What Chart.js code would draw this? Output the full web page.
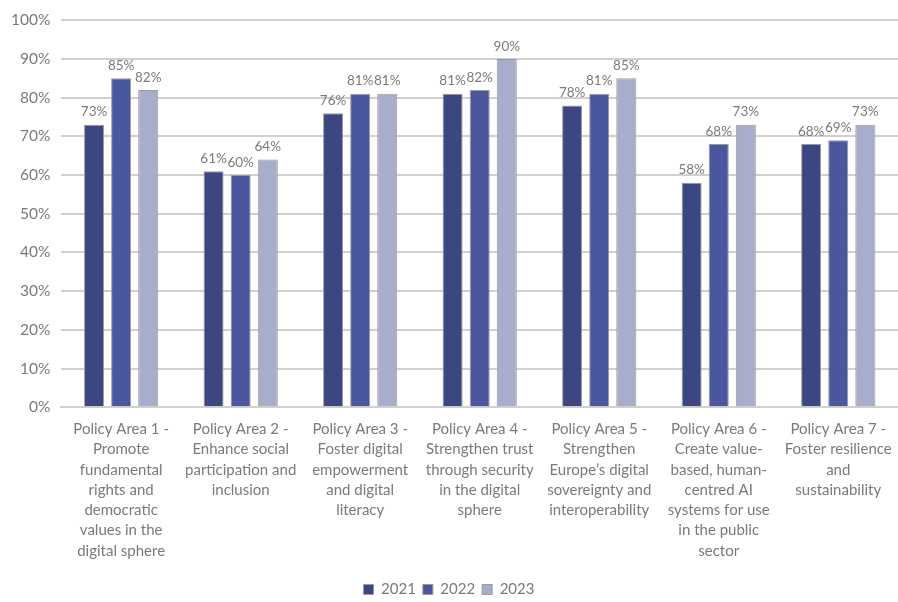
<!DOCTYPE html>
<html>
<head>
<meta charset="utf-8">
<script src="https://cdn.jsdelivr.net/npm/chart.js@4.4.1/dist/chart.umd.min.js"></script>
<style>
  html, body { margin: 0; padding: 0; background: #fff; }
  #wrap { width: 898px; height: 602px; }
</style>
</head>
<body>
<div id="wrap"><canvas id="areaChart" width="898" height="602"></canvas></div>
<script>
// Policy area labels (wrapped as in the source)
const areas = [
    ['Policy Area 1 -', 'Promote', 'fundamental', 'rights and', 'democratic', 'values in the', 'digital sphere'],
    ['Policy Area 2 -', 'Enhance social', 'participation and', 'inclusion'],
    ['Policy Area 3 -', 'Foster digital', 'empowerment', 'and digital', 'literacy'],
    ['Policy Area 4 -', 'Strengthen trust', 'through security', 'in the digital', 'sphere'],
    ['Policy Area 5 -', 'Strengthen', 'Europe\u2019s digital', 'sovereignty and', 'interoperability'],
    ['Policy Area 6 -', 'Create value-', 'based, human-', 'centred AI', 'systems for use', 'in the public', 'sector'],
    ['Policy Area 7 -', 'Foster resilience', 'and', 'sustainability']
];
const years = ['2021', '2022', '2023'];
const values2021 = [73, 61, 76, 81, 78, 58, 68];
const values2022 = [85, 60, 81, 82, 81, 68, 69];
const values2023 = [82, 64, 81, 90, 85, 73, 73];
const yTicks = [0, 10, 20, 30, 40, 50, 60, 70, 80, 90, 100];

const textColor = '#7a7a7a';
const fontFamily = 'Lato, "Open Sans", sans-serif';

// draws the % value above every bar
const valueLabels = {
    id: 'valueLabels',
    afterDatasetsDraw(chart) {
        const c = chart.ctx;
        c.save();
        c.fillStyle = textColor;
        c.font = '13.5px ' + fontFamily;
        c.textAlign = 'center';
        c.textBaseline = 'bottom';
        chart.data.datasets.forEach((ds, i) => {
            chart.getDatasetMeta(i).data.forEach((bar, j) => {
                c.fillText(ds.data[j] + '%', bar.x, bar.y - 6);
            });
        });
        c.restore();
    }
};

const ctx = document.getElementById('areaChart').getContext('2d');
const areaChart = new Chart(ctx, {
    type: 'bar',
    data: {
        labels: areas,
        datasets: [
            { label: years[0], data: values2021, backgroundColor: '#3c4680' },
            { label: years[1], data: values2022, backgroundColor: '#4a579f' },
            { label: years[2], data: values2023, backgroundColor: '#a8adcb' }
        ].map(d => Object.assign(d, {
            borderColor: '#9a9a9a',
            borderWidth: 1,
            categoryPercentage: 0.68,
            barPercentage: 0.74
        }))
    },
    options: {
        responsive: false,
        animation: false,
        layout: { padding: { left: 0, right: 0, top: 4, bottom: -5 } },
        plugins: {
            legend: {
                position: 'bottom',
                labels: {
                    color: textColor,
                    font: { family: fontFamily, size: 15 },
                    boxWidth: 10,
                    boxHeight: 10,
                    padding: 7
                }
            },
            tooltip: { enabled: false }
        },
        scales: {
            x: {
                grid: { display: false },
                border: { color: '#d0d0d0', width: 2 },
                afterFit(axis) { axis.height += 10; },  // leave room before the legend
                ticks: {
                    color: textColor,
                    font: { family: fontFamily, size: 15, lineHeight: 1.35 },
                    maxRotation: 0,
                    autoSkip: false,
                    padding: 4
                }
            },
            y: {
                min: 0,
                max: 100,
                afterBuildTicks(axis) {
                    axis.ticks = yTicks.map(v => ({ value: v }));
                },
                grid: { color: '#d0d0d0', lineWidth: 2, drawTicks: false },
                border: { display: false },
                ticks: {
                    color: textColor,
                    font: { family: fontFamily, size: 15.5 },
                    padding: 11,
                    callback: v => v + '%'
                }
            }
        }
    },
    plugins: [valueLabels]
});
</script>
</body>
</html>
